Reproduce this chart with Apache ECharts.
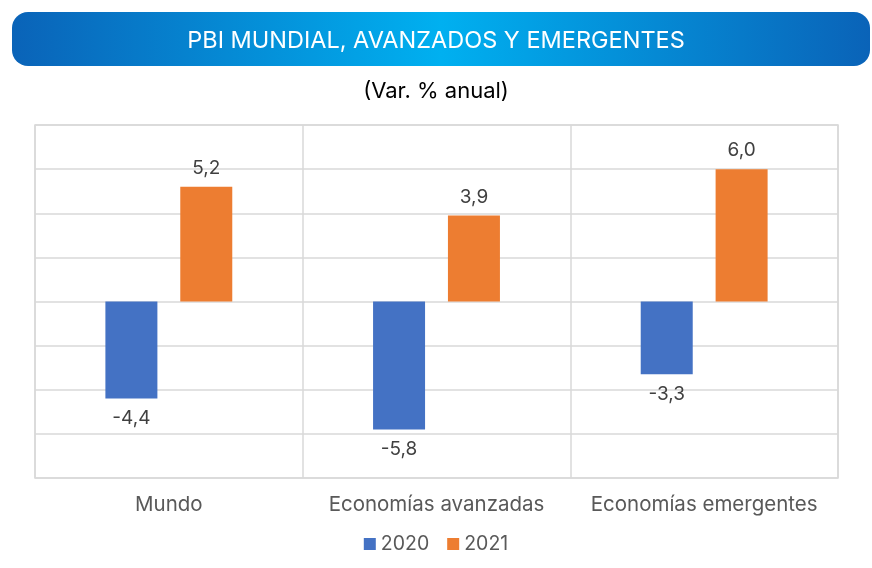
<!DOCTYPE html>
<html>
<head>
<meta charset="utf-8">
<script src="https://cdn.jsdelivr.net/npm/echarts@6/dist/echarts.min.js"></script>
<style>
  html, body { margin: 0; padding: 0; background: #fff; }
  #chart { width: 872px; height: 568px; }
</style>
</head>
<body>
<div id="chart"></div>
<script>
const categories = ['Mundo', 'Economías avanzadas', 'Economías emergentes']
const seriesNames = ['2020', '2021']
const values2020 = [-4.4, -5.8, -3.3]
const values2021 = [5.2, 3.9, 6.0]

const fmt = p => p.value.toFixed(1).replace('.', ',')
const font = 'Inter, "Open Sans", sans-serif'

const chart = echarts.init(document.getElementById('chart'))
chart.setOption({
  animation: false,
  graphic: [{
    type: 'rect',
    shape: { x: 12, y: 12, width: 858, height: 54, r: 16 },
    style: {
      fill: new echarts.graphic.LinearGradient(0, 0, 1, 0, [
        { offset: 0, color: '#0a63b8' },
        { offset: 0.5, color: '#00b0f0' },
        { offset: 1, color: '#0a63b8' }
      ])
    },
    z: 0
  }],
  title: [
    {
      text: 'PBI MUNDIAL, AVANZADOS Y EMERGENTES',
      left: 'center', top: 24,
      textStyle: { color: '#fff', fontSize: 23.5, fontWeight: 'normal', fontFamily: font }
    },
    {
      text: '(Var. % anual)',
      left: 'center', top: 75,
      textStyle: { color: '#000', fontSize: 22, fontWeight: 'normal', fontFamily: font }
    }
  ],
  legend: {
    data: seriesNames,
    bottom: 9,
    left: 'center',
    itemWidth: 12, itemHeight: 12, itemGap: 18,
    icon: 'rect',
    textStyle: { color: '#595959', fontSize: 19.5, fontFamily: font }
  },
  grid: {
    left: 35, top: 125, width: 803, height: 353,
    show: true, borderColor: '#d9d9d9', borderWidth: 1.5
  },
  xAxis: {
    type: 'category',
    data: categories,
    position: 'bottom',
    axisLine: { show: false },
    axisTick: { show: false, interval: 0 },
    splitLine: { show: true, interval: 0, lineStyle: { color: '#d9d9d9', width: 1.5 } },
    axisLabel: { interval: 0, color: '#595959', fontSize: 20.5, margin: 16, fontFamily: font }
  },
  yAxis: {
    type: 'value',
    min: -8, max: 8, interval: 2,
    axisLabel: { show: false },
    axisLine: { show: false },
    axisTick: { show: false },
    splitLine: { lineStyle: { color: '#d9d9d9', width: 1.5 } }
  },
  series: [
    {
      name: '2020', type: 'bar', data: values2020,
      barWidth: 52, barGap: '44%',
      itemStyle: { color: '#4472c4' },
      label: { show: true, position: 'bottom', distance: 10, formatter: fmt, color: '#404040', fontSize: 19, fontFamily: font }
    },
    {
      name: '2021', type: 'bar', data: values2021,
      barWidth: 52,
      itemStyle: { color: '#ed7d31' },
      label: { show: true, position: 'top', distance: 9, formatter: fmt, color: '#404040', fontSize: 19, fontFamily: font }
    }
  ]
})
</script>
</body>
</html>
